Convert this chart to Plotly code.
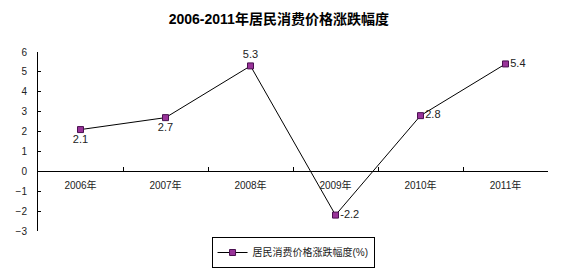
import plotly.graph_objects as go

years = ["2006年", "2007年", "2008年", "2009年", "2010年", "2011年"]
values = [2.1, 2.7, 5.3, -2.2, 2.8, 5.4]
label_pos = ["bottom center", "bottom center", "top center", "middle right", "middle right", "middle right"]
series_name = "居民消费价格涨跌幅度(%)"
title = "2006-2011年居民消费价格涨跌幅度"

font_family = "Arial, Liberation Sans, Noto Sans CJK SC, sans-serif"

fig = go.Figure()
fig.add_trace(go.Scatter(
    x=years, y=values, name=series_name,
    mode="lines+markers+text",
    line=dict(color="black", width=1),
    marker=dict(symbol="square", size=6, color="#993399", line=dict(color="#4a1050", width=1)),
    text=[str(v) for v in values],
    textposition=label_pos,
    textfont=dict(size=11, color="#222222", family=font_family),
    cliponaxis=False,
    showlegend=True,
))

fig.update_layout(
    width=569, height=278,
    margin=dict(l=38, r=21, t=52, b=47, autoexpand=False),
    paper_bgcolor="white", plot_bgcolor="white",
    title=dict(text="<b>" + title + "</b>", x=0.49, xanchor="center", y=0.93, yanchor="middle",
               font=dict(size=14, color="black", family="Liberation Sans, Noto Sans CJK SC, sans-serif")),
    font=dict(family=font_family, size=10, color="black"),
    xaxis=dict(
        type="category", anchor="free", position=1/3,
        showline=True, linecolor="black", linewidth=1,
        ticks="inside", ticklen=4, tickcolor="black", tickson="boundaries",
        showgrid=False, zeroline=False,
        tickfont=dict(size=10, color="#222222"),
        ticklabelstandoff=5,
        range=[-0.5, 5.5],
    ),
    yaxis=dict(
        range=[-3, 6], dtick=1,
        showline=True, linecolor="black", linewidth=1,
        ticks="inside", ticklen=3, tickcolor="black",
        showgrid=False, zeroline=False,
        tickfont=dict(size=10, color="#222222"),
        ticklabelstandoff=8,
    ),
    legend=dict(
        x=0.515, xanchor="center", xref="container",
        y=(278 - 268) / 278, yanchor="bottom", yref="container",
        bordercolor="black", borderwidth=1, bgcolor="white",
        font=dict(size=10, color="#222222"),
        itemwidth=30,
        tracegroupgap=0,
    ),
)

fig.write_html("out.html")
